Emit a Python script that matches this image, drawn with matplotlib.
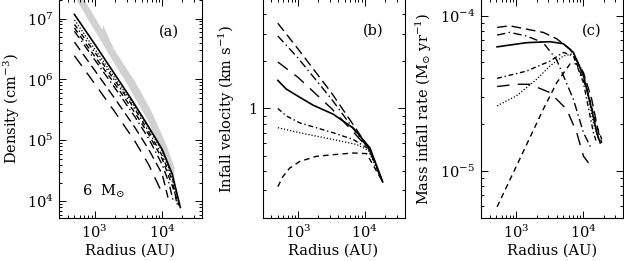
"""Density, infall velocity and mass infall rate profiles (6 Msun model)."""

import matplotlib
matplotlib.use("Agg")
import matplotlib.pyplot as plt
import numpy as np
from matplotlib.ticker import LogLocator, NullFormatter, FixedLocator, FixedFormatter

plt.rcParams["font.family"] = ["DejaVu Serif"]
plt.rcParams["mathtext.fontset"] = "dejavuserif"
plt.rcParams["font.size"] = 10.5

# line styles shared by the three panels
styles = {
    "S": dict(ls="-", lw=1.2),
    "F": dict(ls=(0, (1, 1.5)), lw=0.9),
    "D": dict(ls=(0, (3.5, 2, 1, 2)), lw=1.0),
    "B": dict(ls=(0, (6, 2.5, 1, 2.5)), lw=1.0),
    "A": dict(ls=(0, (7, 3.5)), lw=1.0),
    "E": dict(ls=(0, (9, 6)), lw=1.0),
    "G": dict(ls=(0, (4, 3)), lw=1.0),
}

# ---- panel (a): density [cm^-3] vs radius [AU]
dens_r = {
    "S": [500, 1000, 2000, 3550, 6310, 10000, 14100, 18600],
    "F": [500, 1000, 2000, 3980, 6310, 10000, 14100, 17000],
    "D": [500, 1000, 2000, 3980, 6310, 10000, 14100, 16600],
    "B": [500, 1000, 2000, 3980, 6310, 10000, 12600, 14800],
    "A": [500, 1000, 2000, 3980, 6310, 10000, 12200],
    "E": [500, 1000, 2000, 3980, 6310, 10200],
    "G": [500, 1000, 2000, 3980, 6310, 10000, 14100, 17800],
}
dens = {
    "S": [1.17e7, 3.8e6, 1.2e6, 4.6e5, 1.66e5, 7.1e4, 2.8e4, 7.9e3],
    "F": [9.5e6, 3.16e6, 1.05e6, 3.5e5, 1.58e5, 6.6e4, 2.5e4, 8.9e3],
    "D": [8.0e6, 2.8e6, 9.5e5, 3.2e5, 1.4e5, 5.6e4, 2.2e4, 8.9e3],
    "B": [6.2e6, 2.1e6, 7.2e5, 2.4e5, 1.07e5, 4.0e4, 2.0e4, 9.5e3],
    "A": [4.1e6, 1.41e6, 4.8e5, 1.6e5, 7.1e4, 2.8e4, 1.15e4],
    "E": [2.45e6, 8.5e5, 2.9e5, 9.5e4, 4.0e4, 1.3e4],
    "G": [7.0e6, 2.4e6, 8.3e5, 2.8e5, 1.25e5, 5.0e4, 1.8e4, 8.5e3],
}
band_up_r = [501, 1291, 1349, 1413, 1995, 3846, 6839, 10839, 15240]
band_up = [3.8e7, 6.6e6, 7.9e6, 6.6e6, 2.95e6, 9.8e5, 3.1e5, 1.0e5, 3.6e4]
band_lo_r = [417, 526, 2089, 2786, 6310, 15240]
band_lo = [3.2e7, 2.1e7, 1.62e6, 9.8e5, 2.0e5, 2.14e4]

# ---- panel (b): infall velocity [km/s]
vel_r = {
    "A": [500, 1000, 3160, 7080, 12000, 18400],
    "B": [500, 1000, 3160, 7080, 11500, 18400],
    "E": [500, 1000, 3160, 7080, 11500, 18400],
    "S": [500, 668, 1059, 1679, 3350, 6683, 11885, 18400],
    "D": [500, 668, 1059, 3350, 6683, 11885, 18400],
    "F": [500, 1059, 3350, 7500, 11220, 18400],
    "G": [500, 596, 750, 1059, 1884, 3350, 6683, 10590, 18400],
}
vel = {
    "A": [3.5, 2.4, 1.26, 0.76, 0.54, 0.34],
    "B": [2.9, 2.1, 1.15, 0.72, 0.55, 0.34],
    "E": [1.98, 1.58, 1.0, 0.69, 0.55, 0.34],
    "S": [1.51, 1.33, 1.18, 1.05, 0.92, 0.75, 0.56, 0.34],
    "D": [1.0, 0.897, 0.81, 0.70, 0.634, 0.547, 0.34],
    "F": [0.754, 0.70, 0.634, 0.589, 0.541, 0.34],
    "G": [0.317, 0.368, 0.416, 0.459, 0.495, 0.507, 0.52, 0.515, 0.34],
}

# ---- panel (c): mass infall rate [Msun/yr]
mdot_r = {
    "A": [513, 794, 2510, 3980, 6310, 10000, 13300, 16800, 18800],
    "B": [513, 794, 1410, 2510, 3980, 7080, 10000, 13300],
    "S": [513, 1410, 3160, 5010, 7080, 10000, 13300, 15800, 17800],
    "D": [513, 1410, 3160, 5010, 7080, 10000, 14100, 15800],
    "E": [513, 1000, 1580, 3160, 5620, 7940, 10000, 11900],
    "F": [513, 1000, 2000, 3160, 5010, 7080, 10000, 14100, 16800],
    "G": [513, 1000, 2510, 3980, 6310, 7940, 11200, 15800, 18800],
}
mdot = {
    "A": [8.4e-5, 8.6e-5, 7.8e-5, 7.1e-5, 6.1e-5, 4.3e-5, 2.9e-5, 1.77e-5, 1.52e-5],
    "B": [7.5e-5, 7.8e-5, 7.4e-5, 6.7e-5, 5.2e-5, 2.9e-5, 1.77e-5, 1.38e-5],
    "S": [6.3e-5, 6.7e-5, 6.8e-5, 6.6e-5, 5.8e-5, 4.1e-5, 2.5e-5, 1.77e-5, 1.52e-5],
    "D": [3.95e-5, 4.4e-5, 5.1e-5, 5.8e-5, 5.5e-5, 3.7e-5, 1.77e-5, 1.52e-5],
    "E": [3.5e-5, 3.62e-5, 3.62e-5, 3.2e-5, 2.5e-5, 1.77e-5, 1.25e-5, 1.13e-5],
    "F": [2.63e-5, 3.05e-5, 3.9e-5, 4.75e-5, 5.5e-5, 5.7e-5, 4.3e-5, 2.05e-5, 1.6e-5],
    "G": [5.9e-6, 1.08e-5, 2.5e-5, 3.7e-5, 4.9e-5, 4.9e-5, 3.4e-5, 1.95e-5, 1.6e-5],
}

W, H = 624, 261
fig = plt.figure(figsize=(W / 100, H / 100), dpi=100)
bottom = (H - 218) / H
height = 1.0 - bottom + 0.004
ax_a = fig.add_axes([59 / W, bottom, 143 / W, height])
ax_b = fig.add_axes([262.5 / W, bottom, 142 / W, height])
ax_c = fig.add_axes([481 / W, bottom, 142 / W, height])

for ax in (ax_a, ax_b, ax_c):
    ax.set_xscale("log")
    ax.set_yscale("log")
    ax.set_xlim(295, 3.9e4)
    ax.tick_params(which="both", direction="in", top=True, right=True, width=0.7)
    ax.tick_params(which="major", length=5, pad=4)
    ax.tick_params(which="minor", length=2.5)
    ax.xaxis.set_major_locator(FixedLocator([1e3, 1e4]))
    ax.xaxis.set_major_formatter(FixedFormatter([r"$10^3$", r"$10^4$"]))
    ax.xaxis.set_minor_locator(LogLocator(base=10, subs=np.arange(2, 10)))
    ax.xaxis.set_minor_formatter(NullFormatter())
    ax.set_xlabel("Radius (AU)", labelpad=2)
    for sp in ax.spines.values():
        sp.set_linewidth(0.8)

# panel (a)
ax_a.fill(np.r_[band_up_r, band_lo_r[::-1]], np.r_[band_up, band_lo[::-1]],
          color="0.82", lw=0, zorder=1)
for k in ["E", "A", "B", "G", "D", "F", "S"]:
    ax_a.plot(dens_r[k], dens[k], color="black", zorder=2, **styles[k])
ax_a.set_ylim(5.3e3, 2.1e7)
ax_a.yaxis.set_major_locator(FixedLocator([1e4, 1e5, 1e6, 1e7]))
ax_a.yaxis.set_major_formatter(FixedFormatter([r"$10^4$", r"$10^5$", r"$10^6$", r"$10^7$"]))
ax_a.yaxis.set_minor_locator(LogLocator(base=10, subs=np.arange(2, 10)))
ax_a.yaxis.set_minor_formatter(NullFormatter())
ax_a.set_ylabel(r"Density (cm$^{-3}$)")
ax_a.yaxis.set_label_coords(-0.26, 0.5)
ax_a.text(0.77, 0.85, "(a)", transform=ax_a.transAxes, ha="center", va="center")
ax_a.text(0.16, 0.12, r"6  M$_{\odot}$", transform=ax_a.transAxes, ha="left", va="center")

# panel (b)
for k in ["A", "B", "E", "S", "D", "F", "G"]:
    ax_b.plot(vel_r[k], vel[k], color="black", **styles[k])
ax_b.set_ylim(0.2, 5.0)
ax_b.yaxis.set_major_locator(FixedLocator([1.0]))
ax_b.yaxis.set_major_formatter(FixedFormatter(["1"]))
ax_b.yaxis.set_minor_locator(FixedLocator([0.3, 0.4, 0.5, 0.6, 0.7, 0.8, 0.9, 2, 3, 4]))
ax_b.yaxis.set_minor_formatter(NullFormatter())
ax_b.set_ylabel(r"Infall velocity (km s$^{-1}$)")
ax_b.yaxis.set_label_coords(-0.18, 0.5)
ax_b.text(0.78, 0.855, "(b)", transform=ax_b.transAxes, ha="center", va="center")

# panel (c)
for k in ["A", "B", "S", "D", "E", "F", "G"]:
    ax_c.plot(mdot_r[k], mdot[k], color="black", **styles[k])
ax_c.set_ylim(5e-6, 1.28e-4)
ax_c.yaxis.set_major_locator(FixedLocator([1e-5, 1e-4]))
ax_c.yaxis.set_major_formatter(FixedFormatter([r"$10^{-5}$", r"$10^{-4}$"]))
ax_c.yaxis.set_minor_locator(LogLocator(base=10, subs=np.arange(2, 10)))
ax_c.yaxis.set_minor_formatter(NullFormatter())
ax_c.set_ylabel(r"Mass infall rate (M$_{\odot}$ yr$^{-1}$)")
ax_c.yaxis.set_label_coords(-0.33, 0.5)
ax_c.text(0.78, 0.855, "(c)", transform=ax_c.transAxes, ha="center", va="center")

fig.savefig("out.png", dpi=100)
